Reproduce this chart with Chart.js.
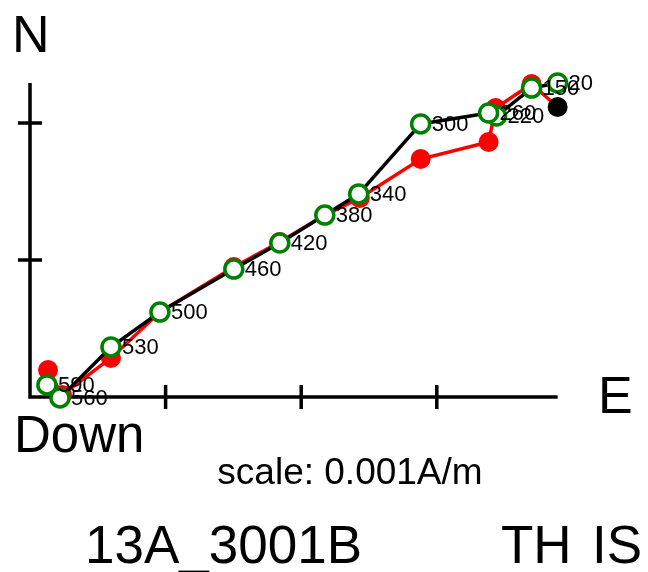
<!DOCTYPE html>
<html>
<head>
<meta charset="utf-8">
<script src="https://cdn.jsdelivr.net/npm/chart.js@4/dist/chart.umd.min.js"></script>
<style>
html,body{margin:0;padding:0;background:#fff;}
#wrap{position:relative;width:648px;height:572px;overflow:hidden;}
#c{position:absolute;left:0;top:0;}
.t{position:absolute;font-family:"Liberation Sans",Arial,sans-serif;line-height:1;color:#000;white-space:nowrap;}
</style>
</head>
<body>
<div id="wrap">
<canvas id="c" width="648" height="572"></canvas>
<div class="t" style="left:12px;top:8px;font-size:52px;">N</div>
<div class="t" style="left:598px;top:369px;font-size:52px;">E</div>
<div class="t" style="left:14px;top:409px;font-size:51px;">Down</div>
<div class="t" style="left:350px;top:453px;font-size:37px;transform:translateX(-50%);">scale: 0.001A/m</div>
<div class="t" style="left:85px;top:518px;font-size:53px;">13A_3001B</div>
<div class="t" style="left:501px;top:518px;font-size:53px;">TH</div>
<div class="t" style="left:592px;top:518px;font-size:53px;">IS</div>
</div>
<script>
// demagnetization steps (labels)
const steps = ['20','150','220','260','300','340','380','420','460','500','530','560','590'];
// horizontal projection (x: East, y: North), units of 0.001 A/m
const horizE = [3.891, 3.699, 3.441, 3.382, 2.881, 2.424, 2.174, 1.842, 1.503, 0.958, 0.597, 0.221, 0.125];
const horizN = [2.292, 2.255, 2.051, 2.073, 1.993, 1.482, 1.328, 1.124, 0.934, 0.620, 0.365, -0.007, 0.088];
// vertical projection (x: East, y: Up/Down)
const vertE = [3.891, 3.699, 3.434, 3.382, 2.881, 2.432, 2.174, 1.842, 1.503, 0.958, 0.597, 0.236, 0.133];
const vertD = [2.117, 2.285, 2.109, 1.861, 1.737, 1.453, 1.328, 1.131, 0.949, 0.620, 0.285, 0.015, 0.197];
// axis tick values
const xTicks = [1, 2, 3];
const yTicks = [1, 2];

const hPts = horizE.map((e, i) => ({x: e, y: horizN[i]}));
const vPts = vertE.map((e, i) => ({x: e, y: vertD[i]}));

const PX_X = 135.6, PX_Y = 137, OX = 30, OY = 397;
const xMin = -OX / PX_X, xMax = (648 - OX) / PX_X;
const yMax = OY / PX_Y, yMin = -(572 - OY) / PX_Y;

const axesPlugin = {
  id: 'zijAxes',
  beforeDatasetsDraw(chart) {
    const ctx = chart.ctx, xs = chart.scales.x, ys = chart.scales.y;
    const allE = horizE.concat(vertE), allN = horizN.concat(vertD);
    const x0 = xs.getPixelForValue(0), y0 = ys.getPixelForValue(0);
    const xEnd = xs.getPixelForValue(Math.max(...allE));
    const yEnd = ys.getPixelForValue(Math.max(...allN));
    ctx.save();
    ctx.strokeStyle = '#000';
    ctx.lineWidth = 3.5;
    ctx.lineCap = 'butt';
    ctx.beginPath();
    ctx.moveTo(x0 - 1.75, y0); ctx.lineTo(xEnd, y0);
    ctx.moveTo(x0, y0 + 1.75); ctx.lineTo(x0, yEnd);
    xTicks.forEach(v => { const p = xs.getPixelForValue(v); ctx.moveTo(p, y0 - 12); ctx.lineTo(p, y0 + 12); });
    yTicks.forEach(v => { const p = ys.getPixelForValue(v); ctx.moveTo(x0 - 12, p); ctx.lineTo(x0 + 12, p); });
    ctx.stroke();
    ctx.restore();
  }
};

const labelPlugin = {
  id: 'stepLabels',
  afterDatasetsDraw(chart) {
    const ctx = chart.ctx, xs = chart.scales.x, ys = chart.scales.y;
    ctx.save();
    ctx.fillStyle = '#000';
    ctx.font = '22px "Liberation Sans", Arial, sans-serif';
    ctx.textBaseline = 'middle';
    ctx.textAlign = 'left';
    hPts.forEach((p, i) => {
      ctx.fillText(steps[i], xs.getPixelForValue(p.x) + 11, ys.getPixelForValue(p.y) + 1);
    });
    ctx.restore();
  }
};

new Chart(document.getElementById('c'), {
  type: 'scatter',
  data: {
    datasets: [
      {
        label: 'horizontal',
        data: hPts,
        showLine: true,
        borderColor: '#000',
        borderWidth: 3.5,
        pointRadius: 9,
        pointBorderWidth: 3.5,
        pointBackgroundColor: '#fff',
        pointBorderColor: '#008000',
        tension: 0,
        clip: false
      },
      {
        label: 'vertical',
        data: vPts,
        showLine: true,
        borderColor: '#ff0000',
        borderWidth: 3.5,
        pointRadius: 10,
        pointBorderWidth: 0,
        pointBackgroundColor: vPts.map((p, i) => i === 0 ? '#000' : '#ff0000'),
        pointBorderColor: vPts.map((p, i) => i === 0 ? '#000' : '#ff0000'),
        tension: 0,
        clip: false
      }
    ]
  },
  options: {
    responsive: false,
    maintainAspectRatio: false,
    animation: false,
    events: [],
    layout: {padding: 0, autoPadding: false},
    plugins: {legend: {display: false}, tooltip: {enabled: false}, title: {display: false}},
    scales: {
      x: {type: 'linear', display: false, min: xMin, max: xMax},
      y: {type: 'linear', display: false, min: yMin, max: yMax}
    }
  },
  plugins: [axesPlugin, labelPlugin]
});
</script>
</body>
</html>
